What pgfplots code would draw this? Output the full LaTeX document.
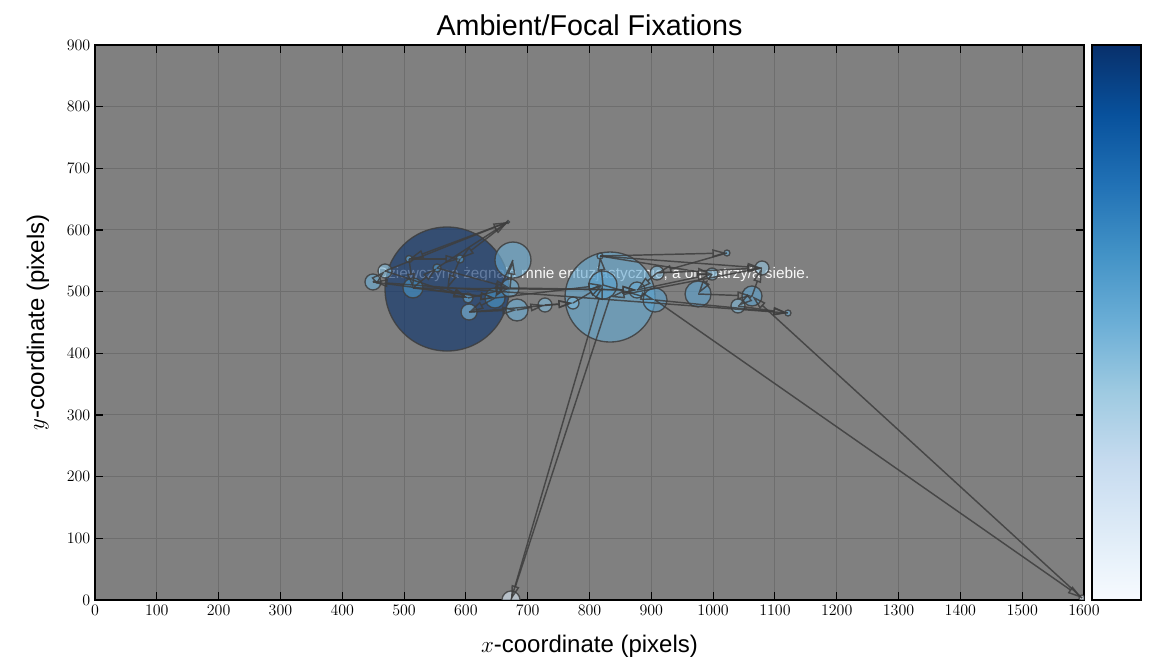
\documentclass[border=0pt]{standalone}
\usepackage{pgfplots}
\pgfplotsset{compat=1.18}
\usepackage{pgfplotstable}
\usepackage{fontspec}
\setmainfont{Liberation Sans}
\usetikzlibrary{arrows.meta}
\definecolor{bggray}{RGB}{128,128,128}
\definecolor{gridgray}{RGB}{110,110,110}
\definecolor{linegray}{RGB}{62,62,62}

\pgfplotstableread{
x y r c
569.5 504.3 62 1.0
833.2 491.3 45 0.52
676.2 551.3 18 0.5
449.7 515.7 8 0.5
469.2 533.5 7 0.45
508.0 553.0 3.5 0.5
514.4 506.0 10 0.6
553.3 538.4 4 0.55
590.5 553.0 4 0.55
603.4 489.7 5 0.5
605.1 467.0 8 0.45
647.1 489.7 10 0.6
671.4 506.0 9 0.5
682.7 470.3 11 0.5
728.0 478.4 7 0.45
773.3 481.6 6 0.45
817.0 557.8 3 0.5
821.8 510.8 14 0.55
876.8 502.7 8 0.5
909.2 530.3 7 0.45
906.0 486.5 12 0.55
975.6 496.2 13 0.55
998.2 528.6 6 0.45
1022.4 562.7 3 0.5
1040.2 476.8 7 0.45
1062.9 493.0 10 0.55
1079.1 538.4 7 0.4
1121.1 465.4 3 0.5
673.0 0.0 9 0.15
1596.8 3.2 3 0.1
668.1 613.0 1.5 0.5
}\fixations

\pgfplotstableread{
x y x2 y2
449.7 515.7 469.2 533.5
469.2 533.5 668.1 613.0
668.1 613.0 508.0 553.0
508.0 553.0 514.4 506.0
514.4 506.0 553.3 538.4
553.3 538.4 668.1 613.0
668.1 613.0 590.5 553.0
590.5 553.0 569.5 504.3
569.5 504.3 603.4 489.7
603.4 489.7 671.4 506.0
671.4 506.0 676.2 551.3
676.2 551.3 647.1 489.7
647.1 489.7 605.1 467.0
605.1 467.0 682.7 470.3
682.7 470.3 728.0 478.4
728.0 478.4 773.3 481.6
773.3 481.6 821.8 510.8
821.8 510.8 817.0 557.8
817.0 557.8 1022.4 562.7
1022.4 562.7 909.2 530.3
909.2 530.3 876.8 502.7
876.8 502.7 998.2 528.6
998.2 528.6 975.6 496.2
975.6 496.2 1062.9 493.0
1062.9 493.0 1079.1 538.4
1079.1 538.4 833.2 491.3
833.2 491.3 673.0 0.0
673.0 0.0 821.8 510.8
821.8 510.8 906.0 486.5
906.0 486.5 1596.8 3.2
1596.8 3.2 1062.9 493.0
1062.9 493.0 1040.2 476.8
1040.2 476.8 1121.1 465.4
1121.1 465.4 449.7 515.7
449.7 515.7 647.1 489.7
514.4 506.0 876.8 502.7
817.0 557.8 1079.1 538.4
906.0 486.5 1121.1 465.4
514.4 506.0 647.1 489.7
553.3 538.4 671.4 506.0
508.0 553.0 590.5 553.0
469.2 533.5 603.4 489.7
647.1 489.7 821.8 510.8
671.4 506.0 876.8 502.7
605.1 467.0 773.3 481.6
817.0 557.8 998.2 528.6
909.2 530.3 1079.1 538.4
}\saccades

\pgfplotsset{
  colormap={Blues}{rgb255=(247,251,255) rgb255=(222,235,247) rgb255=(198,219,239) rgb255=(158,202,225) rgb255=(107,174,214) rgb255=(66,146,198) rgb255=(33,113,181) rgb255=(8,81,156) rgb255=(8,48,107)},
}

\begin{document}
\begin{tikzpicture}
\useasboundingbox (-71.25pt,-44.25pt) rectangle (792pt,450pt);
\begin{axis}[
  at={(0pt,0pt)}, anchor=south west,
  scale only axis, width=741.75pt, height=416.25pt,
  xmin=0, xmax=1600, ymin=0, ymax=900,
  clip marker paths=true,
  xtick={0,100,...,1600}, ytick={0,100,...,900},
  /pgf/number format/1000 sep={},
  grid=major, grid style={gridgray, line width=0.75pt},
  axis background/.style={fill=bggray},
  axis line style={line width=1.4pt},
  tick style={black, line width=0.8pt},
  major tick length=6pt,
  tick label style={font=\fontsize{13}{13}\selectfont},
  xlabel={$x$-coordinate (pixels)},
  ylabel={$y$-coordinate (pixels)},
  label style={font=\fontsize{18}{18}\selectfont},
  x label style={at={(axis description cs:0.5,-0.083)}, anchor=center},
  y label style={at={(axis description cs:-0.0576,0.5)}, anchor=center},
  title={Ambient/Focal Fixations},
  title style={font=\fontsize{21.5}{21.5}\selectfont, at={(axis description cs:0.5,1.022)}, anchor=center},
  point meta min=0, point meta max=1,
]
\node[anchor=west, text=white, text opacity=0.95, font=\fontsize{11.5}{11.5}\selectfont]
  at (axis cs:449,528) {Dziewczyna żegnała mnie entuzjastycznie, a on patrzy/a siebie.};
\addplot[scatter, only marks, mark=*, point meta=\thisrow{c},
  scatter/use mapped color={draw=linegray, fill=mapped color},
  visualization depends on={0.75*\thisrow{r} \as \rad},
  scatter/@pre marker code/.append style={/tikz/mark size=\rad pt},
  mark options={fill opacity=0.62, draw opacity=0.85, line width=1pt}]
  table[x=x,y=y] \fixations;
\addplot[linegray, line width=1.1pt, draw opacity=0.85,
  -{Triangle[open, length=11pt, width=6pt]},
  quiver={u=\thisrow{x2}-\thisrow{x}, v=\thisrow{y2}-\thisrow{y}}]
  table[x=x,y=y] \saccades;
\end{axis}
\begin{axis}[
  at={(747.75pt,0pt)}, anchor=south west,
  scale only axis, width=36.75pt, height=416.25pt,
  xmin=0, xmax=1, ymin=0, ymax=1,
  xtick=\empty, ytick=\empty,
  axis line style={line width=1.4pt},
  point meta min=0, point meta max=1,
  axis on top,
]
\addplot[patch, shader=interp, point meta=explicit] coordinates {
  (0,0) [0] (1,0) [0] (1,1) [1]
  (0,0) [0] (1,1) [1] (0,1) [1]
};
\end{axis}
\end{tikzpicture}
\end{document}
